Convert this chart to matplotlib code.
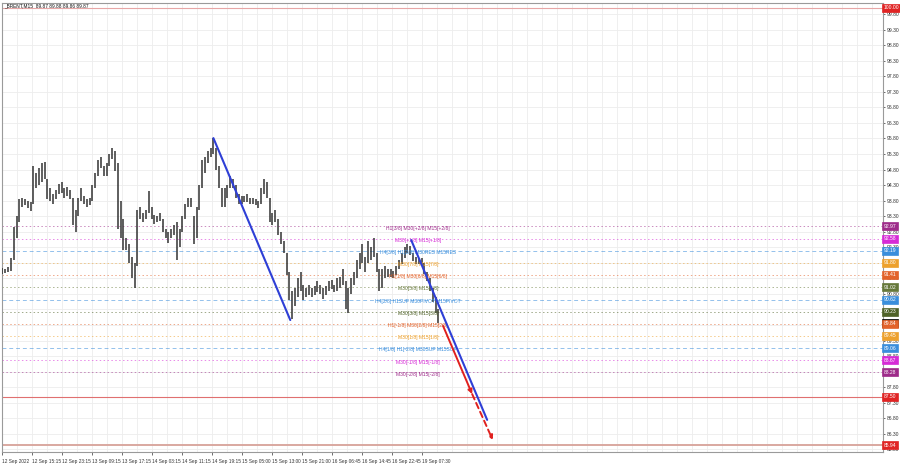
import matplotlib
matplotlib.use("Agg")
import matplotlib.pyplot as plt
import matplotlib.transforms as mtransforms

plt.rcParams['font.family'] = ['Liberation Sans', 'DejaVu Sans']

# ---------------- data ----------------
symbol_title = "_BRENT,M15  89.87 89.88 89.86 89.87"

# price bars (every 3rd M15 bar), index in M15 bars
bar_step = 3
bar_high = [91.62, 91.60, 91.65, 91.95, 92.95, 93.30, 93.85, 93.90, 93.85, 93.80,
            93.75, 94.90, 94.70, 94.85, 95.00, 95.05, 94.50, 94.20, 94.00, 94.15,
            94.35, 94.40, 94.20, 94.25, 94.15, 93.90, 93.50, 93.90, 94.20, 93.95,
            93.85, 93.90, 94.30, 94.70, 95.10, 95.20, 94.90, 95.00, 95.30, 95.50,
            95.40, 95.00, 93.80, 93.20, 92.60, 92.40, 92.00, 91.80, 93.50, 93.60,
            93.40, 93.50, 94.10, 93.60, 93.35, 93.30, 93.40, 93.20, 92.90, 92.80,
            92.90, 93.00, 93.10, 92.90, 93.30, 93.70, 93.90, 93.90, 93.30, 93.60,
            94.30, 95.10, 95.20, 95.40, 95.50, 95.80, 95.50, 94.90, 94.20, 94.20,
            94.30, 94.60, 94.50, 94.30, 94.00, 93.95, 93.95, 94.00, 93.90, 93.90,
            93.85, 93.80, 94.20, 94.50, 94.40, 93.90, 93.40, 93.50, 93.20, 92.80,
            92.50, 92.10, 91.50, 90.90, 91.00, 91.30, 91.50, 91.10, 91.00, 91.10,
            91.00, 91.05, 91.20, 91.10, 91.00, 91.05, 91.20, 91.25, 91.10, 91.30,
            91.35, 91.60, 91.20, 91.00, 91.30, 91.50, 91.90, 92.10, 92.40, 92.00,
            92.50, 92.30, 92.60, 92.10, 91.60, 91.60, 91.70, 91.60, 91.60, 91.55,
            91.70, 91.90, 92.10, 92.30, 92.40, 92.35, 92.10, 92.00, 91.95, 91.95,
            91.80, 91.50, 91.30, 91.00, 90.70, 90.30]
bar_low = [91.45, 91.48, 91.50, 91.55, 91.90, 92.60, 93.10, 93.60, 93.65, 93.55,
           93.45, 93.70, 94.20, 94.30, 94.40, 94.50, 93.85, 93.80, 93.70, 93.85,
           94.00, 94.05, 93.90, 93.95, 93.85, 93.00, 92.80, 93.30, 93.80, 93.70,
           93.60, 93.65, 93.80, 94.20, 94.60, 94.85, 94.60, 94.60, 94.90, 95.15,
           94.75, 92.90, 92.60, 92.20, 92.20, 91.80, 91.30, 91.00, 91.70, 93.20,
           93.10, 93.20, 93.40, 93.20, 93.05, 93.10, 93.15, 92.80, 92.60, 92.45,
           92.60, 92.70, 91.90, 92.30, 92.80, 93.20, 93.60, 93.60, 92.40, 92.60,
           93.50, 94.20, 94.70, 95.00, 95.20, 95.30, 94.80, 94.20, 93.60, 93.60,
           93.90, 94.20, 94.20, 93.90, 93.70, 93.70, 93.75, 93.75, 93.70, 93.70,
           93.65, 93.55, 93.70, 94.00, 93.90, 93.10, 93.00, 93.10, 92.70, 92.40,
           92.10, 91.40, 90.60, 90.00, 90.40, 90.70, 90.90, 90.60, 90.70, 90.75,
           90.70, 90.75, 90.85, 90.80, 90.65, 90.75, 90.90, 90.95, 90.85, 90.90,
           91.00, 91.10, 90.30, 90.20, 90.80, 91.10, 91.30, 91.60, 91.80, 91.50,
           91.80, 91.90, 92.00, 91.50, 90.90, 91.00, 91.30, 91.35, 91.35, 91.30,
           91.40, 91.60, 91.75, 91.95, 92.10, 92.05, 91.85, 91.75, 91.75, 91.70,
           91.45, 91.20, 90.90, 90.55, 90.20, 89.85]

# time axis labels (every 32 M15 bars)
time_label_step = 32
time_labels = ["12 Sep 2022", "12 Sep 15:15", "12 Sep 23:15", "13 Sep 09:15",
               "13 Sep 17:15", "14 Sep 03:15", "14 Sep 11:15", "14 Sep 19:15",
               "15 Sep 05:00", "15 Sep 13:00", "15 Sep 21:00", "16 Sep 06:45",
               "16 Sep 14:45", "16 Sep 22:45", "19 Sep 07:30"]

# price axis labels (grid every 0.50)
price_ticks = [99.80, 99.30, 98.80, 98.30, 97.80, 97.30, 96.80, 96.30, 95.80,
               95.30, 94.80, 94.30, 93.80, 93.30, 92.80, 92.30, 91.80, 91.30,
               90.80, 90.30, 89.80, 89.30, 88.80, 88.30, 87.80, 87.30, 86.80,
               86.30, 85.80]

# Murrey-math levels
level_prices = [92.97, 92.58, 92.19, 91.80, 91.41, 91.02, 90.62, 90.23, 89.84,
                89.45, 89.06, 88.67, 88.28]
level_texts = ["H1[3/8] M30[+2/8] M15[+2/8]", "M30[+1/8] M15[+1/8]",
               "H4[3/8] H1[2/8] M30RES M15RES", "M30[7/8] M15[7/8]",
               "H1[1/8] M30[6/8] M15[6/8]", "M30[5/8] M15[5/8]",
               "H4[2/8] H1SUP M30PIVOT M15PIVOT", "M30[3/8] M15[3/8]",
               "H1[-1/8] M30[2/8] M15[2/8]", "M30[1/8] M15[1/8]",
               "H4[1/8] H1[-2/8] M30SUP M15SUP", "M30[-1/8] M15[-1/8]",
               "M30[-2/8] M15[-2/8]"]
level_colors = ["#9E2C8A", "#D62AD6", "#3A8EDC", "#EDA12E", "#E2622A",
                "#66783A", "#3A8EDC", "#4F6228", "#E2622A", "#EDA12E",
                "#3A8EDC", "#D62AD6", "#9E2C8A"]
level_styles = ["dot", "dot", "dash", "dot", "dot", "dot", "dash", "dot",
                "dot", "dot", "dash", "dot", "dot"]

# red horizontal limits
red_levels = [100.00, 87.50, 85.94]
current_price = 89.87

# AB=CD pattern lines (bar index, price)
leg1_idx = [225, 307]
leg1_price = [95.81, 89.96]
leg2_idx = [436, 517]
leg2_price = [92.53, 86.75]
forecast_idx = [470, 501, 523]
forecast_price = [89.77, 87.58, 86.10]

# ---------------- figure ----------------
W, H = 900, 468
fig = plt.figure(figsize=(W / 100, H / 100), dpi=100)
plot_left, plot_right, plot_top, plot_bottom = 2, 883, 3, 452
ax = fig.add_axes([plot_left / W, 1 - plot_bottom / H,
                   (plot_right - plot_left) / W, (plot_bottom - plot_top) / H])
px_per_bar = 0.9375
n_x = (plot_right - plot_left) / px_per_bar
ax.set_xlim(-0.5, n_x - 0.5)
ax.set_ylim(85.717, 100.154)

for s in ax.spines.values():
    s.set_color("#9a9a9a")
    s.set_linewidth(0.8)

# grid
for gx in range(16, int(n_x), 16):
    ax.axvline(gx, color="#ededed", lw=0.6, zorder=0)
for p in price_ticks:
    ax.axhline(p, color="#ededed", lw=0.6, zorder=0)

# levels
tr = mtransforms.blended_transform_factory(ax.transAxes, ax.transData)
for p, t, c, st in zip(level_prices, level_texts, level_colors, level_styles):
    ls = (0, (4, 3)) if st == "dash" else (0, (1.5, 2.5))
    ax.axhline(p, color=c, lw=0.7, ls=ls, alpha=0.55, zorder=1)
    ax.text(443, p - 0.06, t, color=c, fontsize=3.6, ha="center", va="center",
            zorder=4)

red_cols = ["#E8A6A6", "#E07070", "#D9A8A0"]
red_lw = [0.8, 0.8, 1.4]
for p, c, lw in zip(red_levels, red_cols, red_lw):
    ax.axhline(p, color=c, lw=lw, zorder=1)

# price bars
xs = [i * bar_step for i in range(len(bar_high))]
ax.vlines(xs, bar_low, bar_high, color="#333333", lw=1.1, zorder=3)

# pattern lines
ax.plot(leg1_idx, leg1_price, color="#2E3FD6", lw=1.5, zorder=5,
        solid_capstyle="round")
ax.plot(leg2_idx, leg2_price, color="#2E3FD6", lw=1.5, zorder=5,
        solid_capstyle="round")
ax.annotate("", xy=(forecast_idx[1], forecast_price[1]),
            xytext=(forecast_idx[0], forecast_price[0]),
            arrowprops=dict(arrowstyle="-|>", color="#E0201E", lw=1.4,
                            mutation_scale=6, shrinkA=0, shrinkB=0), zorder=6)
ax.annotate("", xy=(forecast_idx[2], forecast_price[2]),
            xytext=(forecast_idx[1], forecast_price[1]),
            arrowprops=dict(arrowstyle="-|>", color="#E0201E", lw=1.4,
                            linestyle=(0, (3, 2)), mutation_scale=6,
                            shrinkA=0, shrinkB=0), zorder=6)

# axes ticks (labels hidden where a coloured tag fully covers them)
tag_prices = red_levels + level_prices + [current_price]
ax.yaxis.tick_right()
ax.set_yticks(price_ticks)
ax.set_yticklabels(["" if min(abs(p - q) for q in tag_prices) < 0.08
                    else f"{p:.2f}" for p in price_ticks])
ax.tick_params(axis="y", labelsize=3.6, length=1.5, pad=1.2, colors="#333333",
               width=0.5)
ax.set_xticks([i * time_label_step for i in range(len(time_labels))])
ax.set_xticklabels(time_labels, ha="left")
ax.tick_params(axis="x", labelsize=3.4, length=2, pad=3, colors="#333333",
               width=0.5)
for lbl in ax.get_xticklabels():
    lbl.set_horizontalalignment("left")

# right-side coloured price tags
def tag(p, fc, txt=None, ec=None):
    ax.text(1.0008, p, txt or f"{p:.2f}", transform=tr, fontsize=3.6,
            color="white", ha="left", va="center", zorder=10, clip_on=False,
            bbox=dict(boxstyle="square,pad=0.3", fc=fc, ec=ec or fc, lw=0.5))

tag(red_levels[0], "#E02424")
tag(current_price, "#000000")
for p, c in zip(level_prices, level_colors):
    tag(p, c)
tag(red_levels[1], "#E02424")
tag(red_levels[2], "#E02424")

fig.text(4 / W, 1 - 5.5 / H, symbol_title, fontsize=3.4, ha="left",
         va="center", color="#111111")

fig.savefig("out.png", dpi=100)
